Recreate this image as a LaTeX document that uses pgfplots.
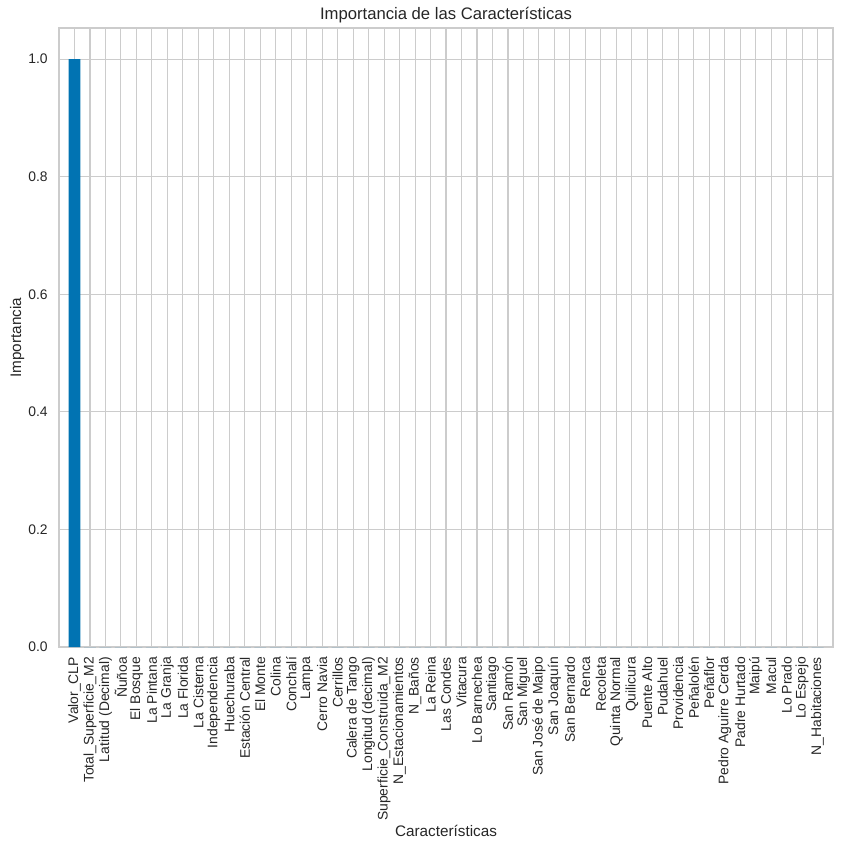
\documentclass[border=0pt]{standalone}
\usepackage{fontspec}
\setmainfont{Liberation Sans}
\usepackage{pgfplots}
\pgfplotsset{compat=1.18}
\definecolor{barblue}{RGB}{1,115,178}
\definecolor{gridgray}{RGB}{204,204,204}
\definecolor{txt}{RGB}{38,38,38}

\begin{document}
\begin{tikzpicture}
\begin{axis}[
    scale only axis,
    width=557.3pt,
    height=445.7pt,
    xmin=-1, xmax=49,
    ymin=0, ymax=1.053,
    ybar, bar width=8.6pt,
    axis line style={gridgray, line width=0.9pt},
    grid=major,
    major grid style={gridgray, line width=0.8pt},
    major tick length=0pt,
    xtick={0,...,48},
    ytick={0,0.2,0.4,0.6,0.8,1.0},
    yticklabel style={/pgf/number format/fixed, /pgf/number format/fixed zerofill, /pgf/number format/precision=1, /pgf/number format/assume math mode=true, font=\fontsize{10}{12}\selectfont, txt, anchor=east, inner sep=0pt, xshift=-8pt},
    xticklabel style={font=\fontsize{10}{12}\selectfont, txt, yshift=-7pt, rotate=90, anchor=east, inner sep=0pt},
    xticklabels={Valor\_CLP, Total\_Superficie\_M2, Latitud (Decimal), Ñuñoa, El Bosque, La Pintana, La Granja, La Florida, La Cisterna, Independencia, Huechuraba, Estación Central, El Monte, Colina, Conchalí, Lampa, Cerro Navia, Cerrillos, Calera de Tango, Longitud (decimal), Superficie\_Construida\_M2, N\_Estacionamientos, N\_Baños, La Reina, Las Condes, Vitacura, Lo Barnechea, Santiago, San Ramón, San Miguel, San José de Maipo, San Joaquín, San Bernardo, Renca, Recoleta, Quinta Normal, Quilicura, Puente Alto, Pudahuel, Providencia, Peñalolén, Peñaflor, Pedro Aguirre Cerda, Padre Hurtado, Maipú, Macul, Lo Prado, Lo Espejo, N\_Habitaciones},
    title={Importancia de las Características},
    title style={font=\fontsize{12}{14}\selectfont, txt, at={(axis description cs:0.5,1)}, anchor=center, yshift=3.4pt},
    xlabel={Características},
    ylabel={Importancia},
    every axis x label/.style={at={(axis description cs:0.5,0)}, anchor=center, yshift=-132.5pt, font=\fontsize{11}{13}\selectfont, txt},
    every axis y label/.style={at={(axis description cs:0,0.5)}, anchor=center, xshift=-30.2pt, rotate=90, font=\fontsize{11}{13}\selectfont, txt},
]
\addplot[fill=barblue, draw=none] coordinates {
    (0,1.0) (1,0) (2,0) (3,0) (4,0) (5,0) (6,0) (7,0) (8,0) (9,0)
    (10,0) (11,0) (12,0) (13,0) (14,0) (15,0) (16,0) (17,0) (18,0) (19,0)
    (20,0) (21,0) (22,0) (23,0) (24,0) (25,0) (26,0) (27,0) (28,0) (29,0)
    (30,0) (31,0) (32,0) (33,0) (34,0) (35,0) (36,0) (37,0) (38,0) (39,0)
    (40,0) (41,0) (42,0) (43,0) (44,0) (45,0) (46,0) (47,0) (48,0)
};
\coordinate (bl) at (rel axis cs:0,0);
\coordinate (tr) at (rel axis cs:1,1);
\end{axis}
\pgfresetboundingbox
\path[use as bounding box] ([xshift=-42.5pt,yshift=-145.4pt]bl) rectangle ([xshift=7.2pt,yshift=20.2pt]tr);
\end{tikzpicture}
\end{document}
